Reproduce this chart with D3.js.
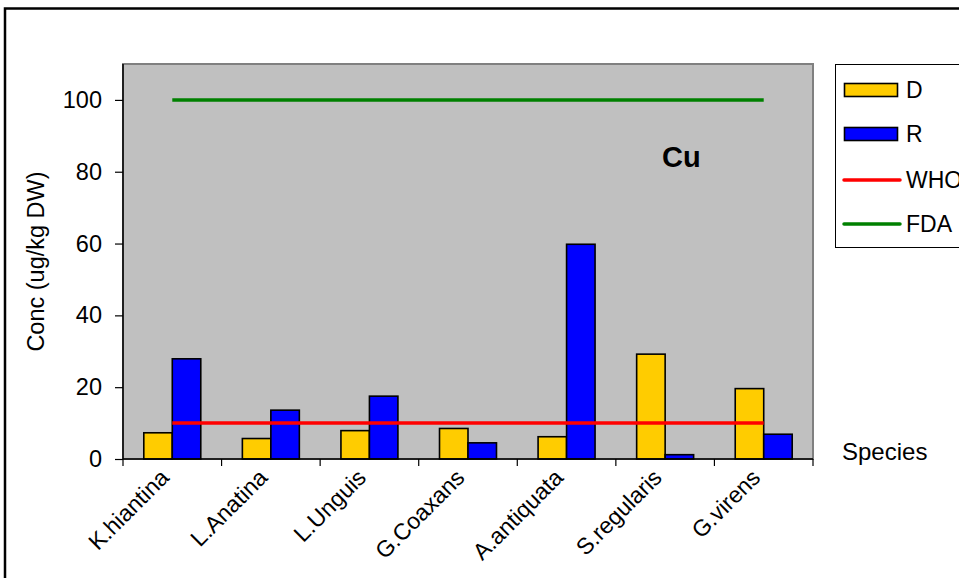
<!DOCTYPE html>
<html><head><meta charset="utf-8">
<script src="https://cdn.jsdelivr.net/npm/d3@7"></script>
<style>body{margin:0;background:#fff}svg{display:block;font-family:"Liberation Sans",Arial,sans-serif}</style>
</head><body>
<svg id="c" width="959" height="578"></svg>
<script>
const categories = ["K.hiantina","L.Anatina","L.Unguis","G.Coaxans","A.antiquata","S.regularis","G.virens"];
const seriesD = [7.3, 5.7, 7.9, 8.5, 6.2, 29.2, 19.6];
const seriesR = [27.9, 13.6, 17.5, 4.5, 59.8, 1.2, 6.9];
const whoLimit = [10, 10, 10, 10, 10, 10, 10];
const fdaLimit = [100, 100, 100, 100, 100, 100, 100];
const yTicks = [0, 20, 40, 60, 80, 100];
const seriesNames = ["D", "R", "WHO", "FDA"];

const svg = d3.select("#c");
const L = 123, R = 813, T = 64, B = 459;
const x = d3.scaleBand().domain(categories).range([L, R]).paddingInner(0).paddingOuter(0);
const y = d3.scaleLinear().domain([0, 110]).range([B, T]);
const inner = d3.scaleBand().domain(["D","R"]).range([0, x.bandwidth()]).paddingOuter(0.73).paddingInner(0);

// outer border
svg.append("rect").attr("x",5).attr("y",8.5).attr("width",1200).attr("height",800)
  .attr("fill","none").attr("stroke","#000").attr("stroke-width",2.5);

// plot area
svg.append("rect").attr("x",L).attr("y",T).attr("width",R-L).attr("height",B-T)
  .attr("fill","#c0c0c0").attr("stroke","#808080").attr("stroke-width",2);

// bars
const colors = {D:"#ffcc00", R:"#0000ff"};
[["D",seriesD],["R",seriesR]].forEach(([k,vals])=>{
  svg.append("g").selectAll("rect").data(vals).join("rect")
    .attr("x",(d,i)=>x(categories[i])+inner(k))
    .attr("y",d=>y(d))
    .attr("width",inner.bandwidth())
    .attr("height",d=>y(0)-y(d))
    .attr("fill",colors[k]).attr("stroke","#000").attr("stroke-width",1.6);
});

// lines
const line = d3.line().x((d,i)=>x(categories[i])+x.bandwidth()/2).y(d=>y(d));
svg.append("path").datum(whoLimit).attr("d",line).attr("fill","none").attr("stroke","#ff0000").attr("stroke-width",3.5);
svg.append("path").datum(fdaLimit).attr("d",line).attr("fill","none").attr("stroke","#008000").attr("stroke-width",3.5);

// y axis
const yAxis = svg.append("g").attr("transform",`translate(${L},0)`)
  .call(d3.axisLeft(y).tickValues(yTicks).tickSize(8).tickPadding(13));
yAxis.select(".domain").attr("stroke","#000").attr("stroke-width",1.5).attr("d",`M-0,${B}V${T}`);
yAxis.selectAll("line").attr("stroke","#000").attr("stroke-width",1.2);
yAxis.selectAll("text").attr("font-size",23.5).attr("fill","#000").attr("font-family","Liberation Sans, Arial, sans-serif");

// x axis
const xAxis = svg.append("g").attr("transform",`translate(0,${B})`)
  .call(d3.axisBottom(x).tickSize(0).tickFormat(""));
xAxis.select(".domain").attr("stroke","#000").attr("stroke-width",1.5).attr("d",`M${L},0H${R}`);
const xTickPos = categories.map(c=>x(c)).concat([R]);
svg.append("g").selectAll("line").data(xTickPos).join("line")
  .attr("x1",d=>d).attr("x2",d=>d).attr("y1",B).attr("y2",B+7)
  .attr("stroke","#000").attr("stroke-width",1.2);
svg.append("g").selectAll("text").data(categories).join("text")
  .attr("transform",d=>`translate(${x(d)+x.bandwidth()/2-2},${B+20}) rotate(-45)`)
  .attr("text-anchor","end").attr("font-size",23).attr("fill","#000").text(d=>d);

// axis titles
svg.append("text").attr("transform",`translate(44,${(T+B)/2}) rotate(-90)`)
  .attr("text-anchor","middle").attr("font-size",23.5).attr("fill","#000").text("Conc (ug/kg DW)");
svg.append("text").attr("x",842).attr("y",460).attr("font-size",24).attr("fill","#000").text("Species");
svg.append("text").attr("x",662).attr("y",167).attr("font-size",29).attr("font-weight","bold").attr("fill","#000").text("Cu");

// legend
const lg = svg.append("g");
lg.append("rect").attr("x",835.5).attr("y",64.5).attr("width",200).attr("height",183)
  .attr("fill","#fff").attr("stroke","#000").attr("stroke-width",1);
const legY = [90, 134, 180, 224];
seriesNames.forEach((n,i)=>{
  if (i<2) {
    lg.append("rect").attr("x",844.5).attr("y",legY[i]-6.5).attr("width",53).attr("height",13)
      .attr("fill",colors[n]).attr("stroke","#000").attr("stroke-width",1.6);
  } else {
    lg.append("line").attr("x1",844).attr("x2",900).attr("y1",legY[i]).attr("y2",legY[i])
      .attr("stroke", i===2?"#ff0000":"#008000").attr("stroke-width",3.5).attr("stroke-linecap","round");
  }
  lg.append("text").attr("x",906).attr("y",legY[i]+8).attr("font-size",23).attr("fill","#000").text(n);
});
</script>
</body></html>
